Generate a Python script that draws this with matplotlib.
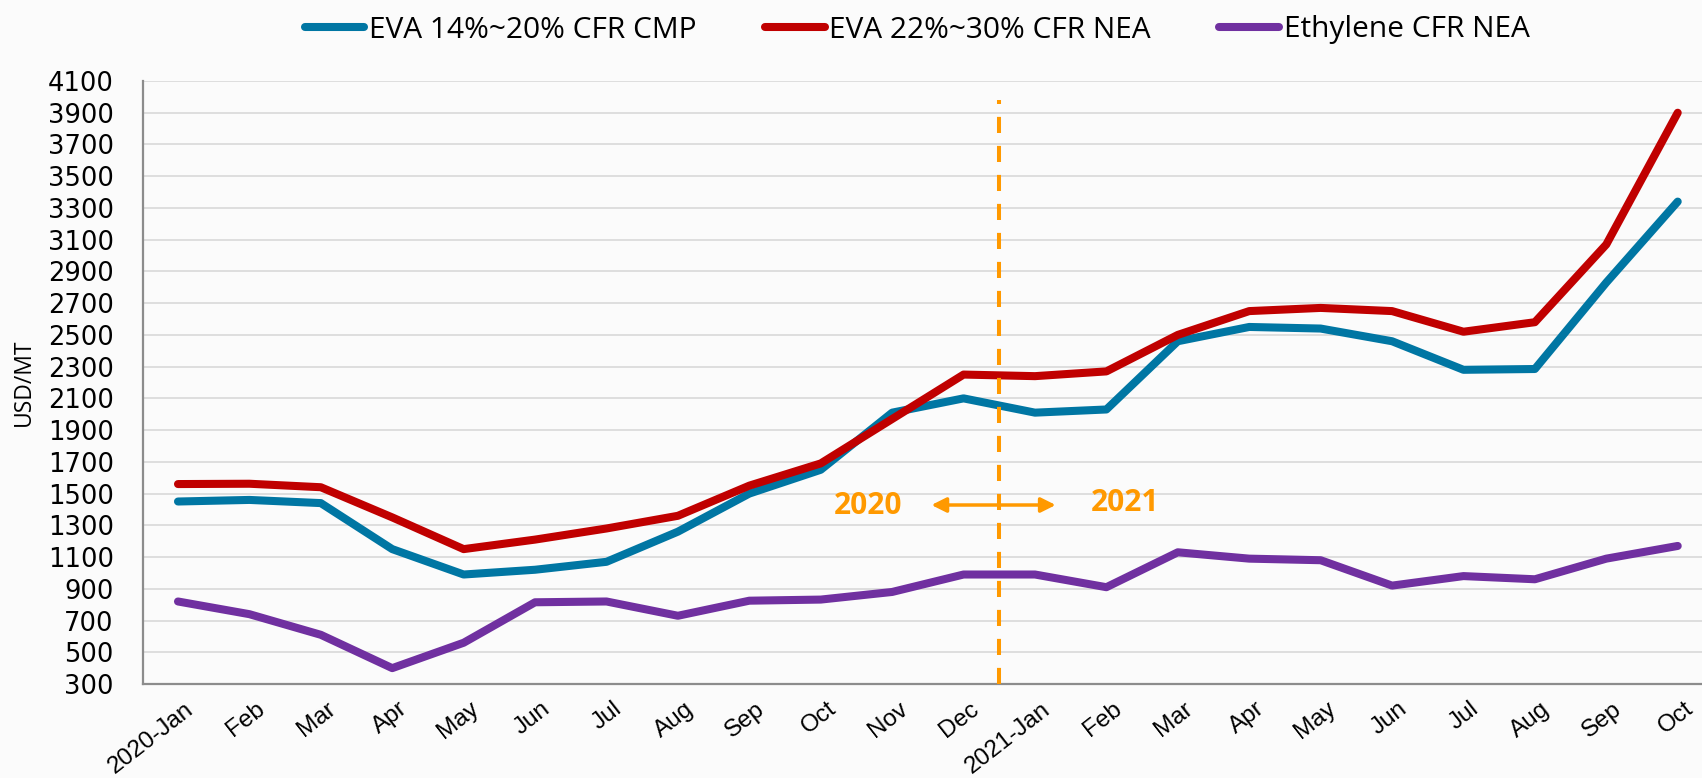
import matplotlib
matplotlib.use("Agg")
import matplotlib.pyplot as plt
from matplotlib.transforms import ScaledTranslation

# data (USD/MT)
months = ["2020-Jan", "Feb", "Mar", "Apr", "May", "Jun", "Jul", "Aug", "Sep", "Oct", "Nov", "Dec",
          "2021-Jan", "Feb", "Mar", "Apr", "May", "Jun", "Jul", "Aug", "Sep", "Oct"]
eva_cmp = [1450, 1460, 1440, 1150, 990, 1020, 1070, 1260, 1500, 1650, 2010, 2100,
           2010, 2030, 2460, 2550, 2540, 2460, 2280, 2285, 2830, 3340]
eva_nea = [1560, 1562, 1540, 1350, 1150, 1210, 1280, 1360, 1550, 1690, 1970, 2250,
           2240, 2270, 2500, 2650, 2670, 2650, 2520, 2580, 3070, 3900]
ethylene = [820, 740, 610, 400, 560, 815, 820, 730, 825, 832, 880, 990,
            990, 910, 1130, 1090, 1080, 920, 980, 960, 1090, 1170]
yticks = list(range(300, 4101, 200))

series_names = ["EVA 14%~20% CFR CMP", "EVA 22%~30% CFR NEA", "Ethylene CFR NEA"]
colors = ["#0076a3", "#c00000", "#7030a0"]
orange = "#ff9900"
bg = "#fbfbfb"

fig = plt.figure(figsize=(17.02, 7.78), dpi=100, facecolor=bg)
ax = fig.add_axes([143 / 1702, 94 / 778, 1 - 143 / 1702, 603 / 778], facecolor=bg)

x = list(range(len(months)))
for vals, name, c in zip([eva_cmp, eva_nea, ethylene], series_names, colors):
    ax.plot(x, vals, color=c, lw=5.8, label=name, solid_capstyle="round",
            solid_joinstyle="round", zorder=3)

# year split marker
ax.plot([11.5, 11.5], [300, 3980], color=orange, lw=2.9, dashes=(4, 3.2), zorder=4)
ax.annotate("", xy=(10.55, 1428), xytext=(12.29, 1428),
            arrowprops=dict(arrowstyle="<|-|>", color=orange, lw=2.5, mutation_scale=22,
                            shrinkA=0, shrinkB=0), zorder=4)
ax.text(9.66, 1420, "2020", color=orange, fontsize=21.5, fontweight="bold",
        family="Open Sans", ha="center", va="center")
ax.text(13.26, 1440, "2021", color=orange, fontsize=21.5, fontweight="bold",
        family="Open Sans", ha="center", va="center")

ax.set_xlim(-0.49, 21.34)
ax.set_ylim(300, 4100)
ax.set_yticks(yticks)
ax.set_yticklabels([str(v) for v in yticks], fontsize=18.5)
ax.set_xticks(x)
ax.set_xticklabels(months, fontsize=17.5, family="Liberation Sans", rotation=38,
                   ha="right", va="top", rotation_mode="anchor")
ax.tick_params(axis="y", length=0, pad=21)
ax.tick_params(axis="x", length=0, pad=10)
offset = ScaledTranslation(6 / 100, 0, fig.dpi_scale_trans)
for lbl in ax.get_xticklabels():
    lbl.set_transform(lbl.get_transform() + offset)

ax.grid(axis="y", color="#d9d9d9", lw=1.2, zorder=0)
ax.set_axisbelow(True)
for s in ["top", "right"]:
    ax.spines[s].set_visible(False)
for s in ["left", "bottom"]:
    ax.spines[s].set_color("#8c8c8c")
    ax.spines[s].set_linewidth(1.6)

fig.text(23.5 / 1702, 1 - 382 / 778, "USD/MT", rotation=90, fontsize=16.5,
         family="Open Sans", ha="center", va="center")

fig.legend(loc="center", bbox_to_anchor=(917 / 1702, 1 - 30 / 778), ncol=3, frameon=False,
           prop={"family": "Open Sans", "size": 21.5}, handlelength=2.0,
           handletextpad=0.15, columnspacing=2.3)

fig.savefig("out.png", dpi=100, facecolor=bg)
